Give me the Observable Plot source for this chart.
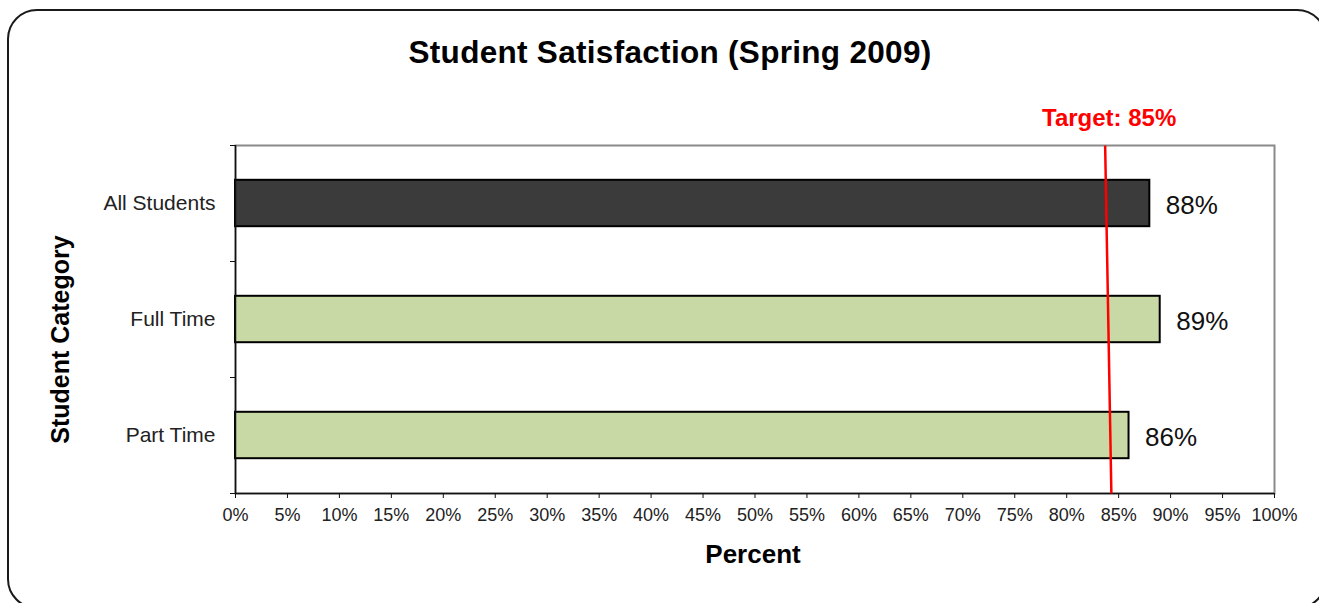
<!DOCTYPE html>
<html>
<head>
<meta charset="utf-8">
<script src="https://cdn.jsdelivr.net/npm/d3@7"></script>
<script src="https://cdn.jsdelivr.net/npm/@observablehq/plot@0.6"></script>
<style>
  html, body { margin: 0; padding: 0; background: #fff; overflow: hidden; width: 1319px; height: 603px; }
  body { position: relative; font-family: "Liberation Sans", Arial, sans-serif; }
  #frame { position: absolute; left: 7px; top: 9px; width: 1320px; height: 600px; border: 2px solid #1a1a1a; border-radius: 30px; box-sizing: border-box; }
  #title { position: absolute; left: 0; top: 34px; width: 1340px; text-align: center; font-size: 31.5px; font-weight: bold; color: #000; letter-spacing: 0.3px; }
  #chart { position: absolute; left: 0; top: 0; }
  #chart svg { overflow: visible; }
</style>
</head>
<body>
<div id="frame"></div>
<div id="title">Student Satisfaction (Spring 2009)</div>
<div id="chart"></div>
<script>
const categories = ["All Students", "Full Time", "Part Time"];
const values = [88, 89, 86];
const barColors = ["#3b3b3b", "#c9d9a5", "#c9d9a5"];
const xTicks = d3.range(0, 101, 5);
const targetLabel = "Target: 85%";
// drawn target line as it appears (slightly slanted), in percent units
const targetLineTopX = [83.7];
const targetLineBottomX = [84.3];

const rows = categories.map((c, i) => ({cat: c, i, value: values[i], color: barColors[i]}));
const targetRows = targetLineTopX.map((t, k) => ({x1: t, x2: targetLineBottomX[k]}));

const chart = Plot.plot({
  width: 1319,
  height: 603,
  marginLeft: 235,
  marginRight: 45,
  marginTop: 145,
  marginBottom: 110,
  style: {fontFamily: "'Liberation Sans', Arial, sans-serif", background: "transparent", color: "#222"},
  x: {domain: [0, 100]},
  y: {domain: [0, 3], reverse: true},
  marks: [
    Plot.frame({stroke: "#8a8a8a", strokeWidth: 2}),
    Plot.rect(rows, {x1: 0, x2: "value", y1: d => d.i + 0.3, y2: d => d.i + 0.7, fill: "color", stroke: "#000", strokeWidth: 2}),
    Plot.text(rows, {x: "value", y: d => d.i + 0.5, text: d => d.value + "%", textAnchor: "start", dx: 16, dy: 2, fontSize: 26, fill: "#111"}),
    Plot.ruleX([0], {stroke: "#111", strokeWidth: 1.5}),
    Plot.ruleY([3], {stroke: "#111", strokeWidth: 1.5}),
    Plot.axisX({ticks: xTicks, tickFormat: d => d + "%", tickSize: 5, tickPadding: 10, fontSize: 18, label: null, stroke: "#111"}),
    Plot.axisY({ticks: [0, 1, 2, 3], tickFormat: () => "", tickSize: 5, label: null, stroke: "#111"}),
    Plot.axisY({ticks: [0.5, 1.5, 2.5], tickFormat: d => categories[Math.floor(d)], tickSize: 0, tickPadding: 20, fontSize: 21, label: null}),
    Plot.link(targetRows, {x1: "x1", x2: "x2", y1: 0, y2: 3, stroke: "#ff0000", strokeWidth: 2.5}),
    Plot.link(targetRows, {x1: "x1", x2: "x1", y1: 0, y2: 0, dy: -8, stroke: "#ff0000", strokeWidth: 2.5}),
    Plot.text(targetRows, {x: "x1", y: 0, text: () => targetLabel, dy: -27, dx: 4, fill: "#ff0000", fontWeight: "bold", fontSize: 24, textAnchor: "middle"}),
    Plot.text(["Student Category"], {frameAnchor: "left", textAnchor: "middle", dx: -175, dy: 20, rotate: -90, fontWeight: "bold", fontSize: 25, fill: "#000"}),
    Plot.text(["Percent"], {frameAnchor: "bottom", textAnchor: "middle", dx: -2, dy: 69, fontWeight: "bold", fontSize: 26, fill: "#000"})
  ]
});
document.getElementById("chart").append(chart);
</script>
</body>
</html>
